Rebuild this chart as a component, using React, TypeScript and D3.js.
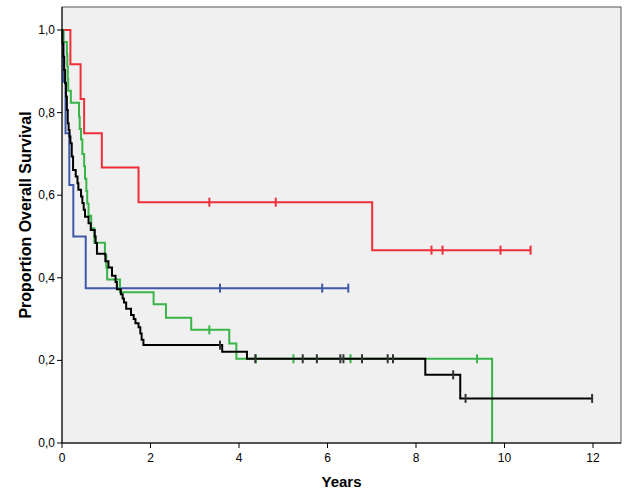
import React from "react";
import * as d3 from "d3";

const xTicks = [0, 2, 4, 6, 8, 10, 12];
const yTicks = [0, 0.2, 0.4, 0.6, 0.8, 1.0];
const yTickLabels = ["0,0", "0,2", "0,4", "0,6", "0,8", "1,0"];

const redTimes = [0.19, 0.42, 0.5, 0.9, 1.73, 7.01];
const redSurv = [0.917, 0.833, 0.75, 0.667, 0.583, 0.467];
const redEnd = 10.6;
const redCensor = [3.33, 4.83, 8.35, 8.6, 9.91, 10.59];

const blueTimes = [0.03, 0.08, 0.165, 0.256, 0.536];
const blueSurv = [0.875, 0.75, 0.625, 0.5, 0.375];
const blueEnd = 6.47;
const blueCensor = [3.57, 5.88, 6.47];

const greenTimes = [0.03, 0.11, 0.12, 0.13, 0.14, 0.2, 0.385, 0.4, 0.43, 0.46, 0.5, 0.52, 0.55, 0.57, 0.6, 0.66, 0.73, 0.97, 1.0, 1.02, 1.31, 2.07, 2.35, 2.92, 3.78, 3.94, 9.72];
const greenSurv = [0.971, 0.941, 0.912, 0.882, 0.853, 0.824, 0.79, 0.76, 0.735, 0.7, 0.67, 0.64, 0.61, 0.58, 0.55, 0.52, 0.485, 0.455, 0.425, 0.396, 0.365, 0.336, 0.303, 0.274, 0.241, 0.204, 0.0];
const greenEnd = 9.72;
const greenCensor = [3.33, 4.38, 5.23, 6.52, 9.38];

const blackTimes = [0.01, 0.03, 0.05, 0.07, 0.09, 0.11, 0.13, 0.15, 0.17, 0.19, 0.22, 0.25, 0.31, 0.35, 0.37, 0.43, 0.46, 0.49, 0.52, 0.6, 0.65, 0.74, 0.76, 0.79, 0.98, 1.05, 1.13, 1.21, 1.24, 1.33, 1.37, 1.4, 1.45, 1.56, 1.62, 1.66, 1.73, 1.77, 1.8, 1.84, 3.62, 4.18, 8.21, 9.0];
const blackSurv = [0.968, 0.935, 0.903, 0.871, 0.839, 0.806, 0.774, 0.758, 0.742, 0.726, 0.694, 0.661, 0.645, 0.629, 0.613, 0.597, 0.581, 0.565, 0.548, 0.532, 0.516, 0.5, 0.484, 0.458, 0.44, 0.425, 0.405, 0.39, 0.372, 0.36, 0.35, 0.34, 0.325, 0.31, 0.3, 0.29, 0.28, 0.265, 0.25, 0.237, 0.221, 0.204, 0.165, 0.108];
const blackEnd = 11.98;
const blackCensor = [3.57, 4.37, 5.44, 5.76, 6.29, 6.36, 6.78, 7.36, 7.48, 8.84, 9.12, 11.98];

const series = [
  { name: "blue", times: blueTimes, surv: blueSurv, end: blueEnd, censor: blueCensor, color: "#3F58AA", censorColor: "#3F58AA" },
  { name: "red", times: redTimes, surv: redSurv, end: redEnd, censor: redCensor, color: "#EE2F37", censorColor: "#EE2F37" },
  { name: "green", times: greenTimes, surv: greenSurv, end: greenEnd, censor: greenCensor, color: "#38B449", censorColor: "#38B449" },
  { name: "black", times: blackTimes, surv: blackSurv, end: blackEnd, censor: blackCensor, color: "#000000", censorColor: "#333333" },
];

const W = 629, H = 504;
const left = 62, right = 621, top = 7, bottom = 443;

export default function App() {
  const x = d3.scaleLinear().domain([0, 12]).range([left, 593]);
  const y = d3.scaleLinear().domain([0, 1]).range([bottom, 30]);
  const line = d3.line<[number, number]>().x(d => x(d[0])).y(d => y(d[1])).curve(d3.curveStepAfter);

  const survAt = (s: any, t: number) => {
    let v = 1;
    for (let i = 0; i < s.times.length; i++) if (s.times[i] <= t) v = s.surv[i];
    return v;
  };

  const font = "'Liberation Sans', Arial, sans-serif";

  return (
    <svg width={W} height={H} style={{ position: "absolute", left: 0, top: 0, background: "#fff" }} fontFamily={font}>
      <rect x={left} y={top} width={right - left} height={bottom - top} fill="#F0F0F0" stroke="#555" strokeWidth={1} />
      {series.map(s => {
        const pts: [number, number][] = [[0, 1]];
        s.times.forEach((t, i) => pts.push([t, s.surv[i]]));
        const last = s.surv[s.surv.length - 1];
        if (s.end > s.times[s.times.length - 1]) pts.push([s.end, last]);
        return (
          <g key={s.name}>
            <path d={line(pts) || ""} fill="none" stroke={s.color} strokeWidth={2} />
            {s.censor.map((c, i) => {
              const v = survAt(s, c);
              return <line key={i} x1={x(c)} x2={x(c)} y1={y(v) - 4.5} y2={y(v) + 4.5} stroke={s.censorColor} strokeWidth={2} />;
            })}
          </g>
        );
      })}
      <line x1={left} x2={left} y1={top} y2={bottom} stroke="#000" strokeWidth={1} />
      <line x1={left} x2={right} y1={bottom} y2={bottom} stroke="#000" strokeWidth={1} />
      {yTicks.map((v, i) => (
        <g key={i}>
          <line x1={left - 5} x2={left} y1={y(v)} y2={y(v)} stroke="#000" />
          <text x={left - 7} y={y(v) + 4} textAnchor="end" fontSize={12} fill="#000">{yTickLabels[i]}</text>
        </g>
      ))}
      {xTicks.map((v, i) => (
        <g key={i}>
          <line x1={x(v)} x2={x(v)} y1={bottom} y2={bottom + 5} stroke="#000" />
          <text x={x(v)} y={bottom + 19} textAnchor="middle" fontSize={12} fill="#000">{v}</text>
        </g>
      ))}
      <text x={(left + right) / 2} y={487} textAnchor="middle" fontSize={15} fontWeight="bold" fill="#000">Years</text>
      <text transform={`translate(31, 215) rotate(-90)`} textAnchor="middle" fontSize={16} fontWeight="bold" fill="#000">Proportion Overall Survival</text>
    </svg>
  );
}
